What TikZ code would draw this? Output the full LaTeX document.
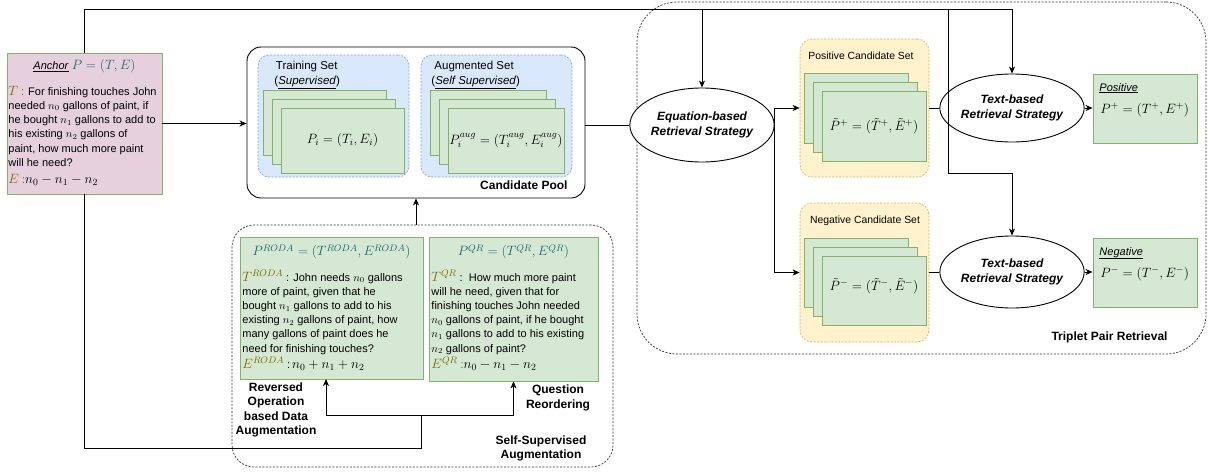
\RequirePackage{fix-cm}
\documentclass[tikz,border=0pt]{standalone}
\usepackage[no-math]{fontspec}
\setmainfont{Liberation Sans}
\usetikzlibrary{arrows.meta,shapes.geometric,calc}
\definecolor{cardfill}{HTML}{D5E8D4}
\definecolor{cardline}{HTML}{82B366}
\definecolor{bluefill}{HTML}{DAE8FC}
\definecolor{blueline}{HTML}{7EA6E0}
\definecolor{yelfill}{HTML}{FFF2CC}
\definecolor{yelline}{HTML}{D6B656}
\definecolor{pinkfill}{HTML}{E6D0DE}
\definecolor{mteal}{HTML}{1D6A6C}
\definecolor{molive}{HTML}{7A6C00}
\newcommand\mybig[1]{{\fontsize{13.5}{14}\selectfont$#1$}}
\newcommand\mymath[1]{{\fontsize{13.5}{14}\selectfont$#1$}}
\begin{document}
\begin{tikzpicture}[x=1pt,y=-1pt,line width=0.9pt,
  arr/.style={-{Stealth[length=7pt,width=6pt,inset=2pt]}},
  card/.style={draw=cardline,fill=cardfill,line width=0.8pt,inner sep=0pt},
  blueset/.style={draw=blueline,fill=bluefill,dash pattern=on 2pt off 1.5pt,line width=0.7pt,rounded corners=11pt,inner sep=0pt},
  yelset/.style={draw=yelline,fill=yelfill,dash pattern=on 2pt off 1.5pt,line width=0.7pt,rounded corners=12pt,inner sep=0pt},
  group/.style={draw=black!80,dash pattern=on 2pt off 1.5pt,line width=0.7pt,inner sep=0pt},
  oval/.style={draw,ellipse,fill=white,inner sep=0pt,align=center,font=\bfseries\itshape\fontsize{12}{14.5}\selectfont},
  lbl/.style={font=\bfseries\fontsize{12}{14.5}\selectfont,align=center,inner sep=0pt},
  txt/.style={font=\fontsize{11}{14.3}\selectfont,inner sep=0pt},
  small/.style={font=\fontsize{10.4}{12}\selectfont,inner sep=0pt}
]
\useasboundingbox (0,0) rectangle (1212,471);

% group boxes
\node[group,rounded corners=40pt,minimum width=569pt,minimum height=352pt] (tpr) at (921.5,178) {};
\node[group,rounded corners=22pt,minimum width=381pt,minimum height=242pt] (ssa) at (422.5,346) {};
\node[draw,fill=white,rounded corners=14pt,minimum width=338pt,minimum height=151pt,inner sep=0pt] (pool) at (416,122.5) {};

% anchor
\node[card,fill=pinkfill,minimum width=155pt,minimum height=141pt] (anchor) at (84.5,123.5) {};
\node[txt] (anctitle) at (84.5,66) {\underline{\textit{Anchor}} \textcolor{mteal}{\mybig{P=(T,E)}}};
\node[txt,anchor=base west] (ancbody) at (8,95) {\parbox[t]{160pt}{\raggedright\fontsize{11}{14.3}\selectfont\lineskiplimit=-20pt
\textcolor{molive}{\mybig{T}\ :} For finishing touches John\\
needed $n_0$ gallons of paint, if\\
he bought $n_1$ gallons to add to\\
his existing $n_2$ gallons of\\
paint, how much more paint\\
will he need?}};
\node[txt,anchor=base west] (ancE) at (8,183) {\textcolor{molive}{\mybig{E}\ :}\mymath{n_0-n_1-n_2}};

% training set
\node[blueset,minimum width=151pt,minimum height=122pt] (train) at (333.5,116) {};
\node[txt,anchor=base west,font=\fontsize{11.5}{14}\selectfont] (trainl1) at (275.5,69) {Training Set};
\node[txt,anchor=base west,font=\fontsize{11.5}{14}\selectfont] (trainl2) at (274,84) {(\underline{\textit{Supervised}})};
\node[card,minimum width=123pt,minimum height=65pt] (tc1) at (324.5,122.5) {};
\node[card,minimum width=123pt,minimum height=65pt] (tc2) at (333.5,131.5) {};
\node[card,minimum width=123pt,minimum height=65pt] (tc3) at (342.5,140.5) {\mymath{P_i=(T_i,E_i)}};

% augmented set
\node[blueset,minimum width=151pt,minimum height=122pt] (aug) at (496.5,116) {};
\node[txt,anchor=base west,font=\fontsize{11.5}{14}\selectfont] (augl1) at (434,69) {Augmented Set};
\node[txt,anchor=base west,font=\fontsize{11.5}{14}\selectfont] (augl2) at (431,84) {(\underline{\textit{Self Supervised}})};
\node[card,minimum width=116pt,minimum height=65pt] (ac1) at (488,122.5) {};
\node[card,minimum width=116pt,minimum height=65pt] (ac2) at (497,131.5) {};
\node[card,minimum width=116pt,minimum height=65pt] (ac3) at (506,140.5) {\mymath{P_i^{aug}=(T_i^{aug},E_i^{aug})}};

\node[lbl,anchor=base east] (poollbl) at (568,189) {Candidate Pool};

% self-supervised augmentation
\node[card,minimum width=183pt,minimum height=142pt] (roda) at (331.5,308) {};
\node[inner sep=0pt] (rodatitle) at (331.5,252) {\textcolor{mteal}{\mybig{P^{RODA}=(T^{RODA},E^{RODA})}}};
\node[txt,anchor=base west] (rodabody) at (242,281) {\parbox[t]{180pt}{\raggedright\fontsize{11}{14.2}\selectfont\lineskiplimit=-20pt
\textcolor{molive}{\mybig{T^{RODA}}}\ : John needs $n_0$ gallons\\
more of paint, given that he\\
bought $n_1$ gallons to add to his\\
existing $n_2$ gallons of paint, how\\
many gallons of paint does he\\
need for finishing touches?}};
\node[txt,anchor=base west] (rodaE) at (242,368) {\textcolor{molive}{\mybig{E^{RODA}}}\ :\,\mymath{n_0+n_1+n_2}};

\node[card,minimum width=169pt,minimum height=144pt] (qr) at (513.5,309) {};
\node[inner sep=0pt] (qrtitle) at (513.5,252) {\textcolor{mteal}{\mybig{P^{QR}=(T^{QR},E^{QR})}}};
\node[txt,anchor=base west] (qrbody) at (431,281) {\parbox[t]{170pt}{\raggedright\fontsize{11}{14.2}\selectfont\lineskiplimit=-20pt
\textcolor{molive}{\mybig{T^{QR}}}\ :\ \ How much more paint\\
will he need, given that for\\
finishing touches John needed\\
$n_0$ gallons of paint, if he bought\\
$n_1$ gallons to add to his existing\\
$n_2$ gallons of paint?}};
\node[txt,anchor=base west] (qrE) at (431,368) {\textcolor{molive}{\mybig{E^{QR}}\ :}\mymath{n_0-n_1-n_2}};

\node[lbl] (rodalbl) at (276,410) {Reversed\\Operation\\based Data\\Augmentation};
\node[lbl] (qrlbl) at (558,398) {Question\\Reordering};
\node[lbl] (ssalbl) at (541,448.5) {Self-Supervised\\Augmentation};

% triplet retrieval
\node[oval,minimum width=112pt,minimum height=74pt] (eq) at (702,125) {Equation-based\\Retrieval Strategy};

\node[yelset,minimum width=129pt,minimum height=138pt] (pos) at (864.5,108) {};
\node[small] (posl) at (861,56) {Positive Candidate Set};
\node[card,minimum width=104pt,minimum height=70pt] (pc1) at (856,108) {};
\node[card,minimum width=104pt,minimum height=70pt] (pc2) at (865,117) {};
\node[card,minimum width=104pt,minimum height=70pt] (pc3) at (874,126) {\mymath{\tilde P^{+}=(\tilde T^{+},\tilde E^{+})}};

\node[yelset,minimum width=129pt,minimum height=139pt] (neg) at (864.5,272.5) {};
\node[small] (negl) at (865,221) {Negative Candidate Set};
\node[card,minimum width=104pt,minimum height=69pt] (nc1) at (856,272.5) {};
\node[card,minimum width=104pt,minimum height=69pt] (nc2) at (865,281.5) {};
\node[card,minimum width=104pt,minimum height=69pt] (nc3) at (874,290.5) {};
\node[inner sep=0pt] (nc3t) at (874,286) {\mymath{\tilde P^{-}=(\tilde T^{-},\tilde E^{-})}};

\node[oval,minimum width=112pt,minimum height=68pt] (tt) at (1012,108) {Text-based\\Retrieval Strategy};
\node[oval,minimum width=112pt,minimum height=72pt] (tb) at (1012,272) {Text-based\\Retrieval Strategy};

\node[card,minimum width=104pt,minimum height=69pt] (posbox) at (1145,108.5) {};
\node[txt,anchor=base west] (posboxl) at (1099,91) {\underline{\textit{Positive}}};
\node[anchor=base west,inner sep=0pt] (posboxm) at (1100,113) {\mymath{P^{+}=(T^{+},E^{+})}};
\node[card,minimum width=104pt,minimum height=69pt] (negbox) at (1145,272.5) {};
\node[txt,anchor=base west] (negboxl) at (1099,255) {\underline{\textit{Negative}}};
\node[anchor=base west,inner sep=0pt] (negboxm) at (1100,277) {\mymath{P^{-}=(T^{-},E^{-})}};

\node[lbl,anchor=base east] (tprlbl) at (1168,340) {Triplet Pair Retrieval};

% connectors
\coordinate (topL) at (84.5,9);
\coordinate (topR) at (1012,9);
\draw[arr] (anchor.north) -- (topL) -- (topR) -- (tt.north);
\draw[arr] (eq.north |- topR) -- (eq.north);
\coordinate (dropA) at (948,9);
\coordinate (dropB) at (948,173);
\draw[arr] (dropA) -- (dropB) -- (tb.north |- dropB) -- (tb.north);
\draw[arr] (anchor.east) -- (pool.west |- anchor.east);
\draw (pool.east |- eq.west) -- (eq.west);
\coordinate (split) at (774,125);
\draw (eq.east) -- (split);
\draw[arr] (split) |- (pos.west);
\draw[arr] (split) |- (neg.west);
\draw (pos.east) -- (tt.west);
\draw[arr] (tt.east) -- (posbox.west |- tt.east);
\draw (neg.east |- tb.west) -- (tb.west);
\draw[arr] (tb.east) -- (negbox.west |- tb.east);
\draw[arr] (ssa.north -| pool.south) -- (pool.south);
\coordinate (botL) at (84.5,448);
\coordinate (botR) at (421,448);
\coordinate (fork) at (421,415);
\draw (anchor.south) -- (botL) -- (botR) -- (fork);
\draw[arr] (fork) -- (326,415) -- (326,379);
\draw[arr] (fork) -| (qr.south);
\end{tikzpicture}
\end{document}
